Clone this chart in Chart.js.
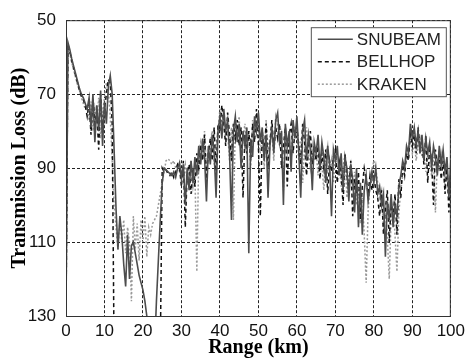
<!DOCTYPE html>
<html>
<head>
<meta charset="utf-8">
<script src="https://cdn.jsdelivr.net/npm/chart.js@4.4.1/dist/chart.umd.min.js"></script>
<style>
  body { margin: 0; background: #fff; }
  canvas { display: block; }
</style>
</head>
<body>
<canvas id="tlChart" width="470" height="362"></canvas>
<script>
/* DATA : transmission loss (dB) every 0.5 km, 0 .. 100 km */
const rangeStep = 0.5;
const xTicks = [0, 10, 20, 30, 40, 50, 60, 70, 80, 90, 100];
const yTicks = [50, 70, 90, 110, 130];
const seriesNames = ["SNUBEAM", "BELLHOP", "KRAKEN"];

const snubeam = [
  130, 56, 58, 60.5, 62.5, 64.5, 66.5, 68.5, 70, 71,        // 0
  72.5, 74, 71, 79, 70, 83, 73, 80, 69, 84,                 // 5
  72, 78, 68, 65, 70, 85, 101, 112, 103, 108,               // 10
  116, 122, 108, 120, 111, 110, 113, 116, 119, 121,         // 15
  123, 126, 130, 134, 140, 140, 140, 126, 115, 104,         // 20
  94, 90, 90.5, 91, 91.5, 92, 91, 92.5, 90, 88.5,           // 25
  93, 89, 100, 90, 96, 88, 94, 87, 92, 84,                  // 30
  89, 82, 87, 99, 84, 89, 81, 86, 98, 80,                   // 35
  76, 82, 74, 80, 77, 86, 104, 80, 76, 83,                  // 40
  78, 90, 80, 84, 79, 113, 82, 87, 76, 80,                  // 45
  75, 83, 79, 88, 81, 98, 84, 79, 86, 77,                   // 50
  75, 83, 80, 100, 78, 84, 80, 91, 77, 82,                  // 55
  76, 86, 98, 80, 77, 88, 81, 85, 96, 83,                   // 60
  86, 81, 90, 83, 87, 94, 84, 89, 103, 85,                  // 65
  88, 84, 92, 86, 96, 87, 90, 99, 89, 93,                   // 70
  102, 90, 106, 94, 108, 96, 92, 99, 95, 91,                // 75
  94, 90, 97, 95, 100, 97, 114, 99, 104, 97,                // 80
  106, 100, 103, 95, 92, 88, 90, 84, 86, 78,                // 85
  82, 79, 84, 80, 86, 81, 88, 82, 86, 83,                   // 90
  90, 84, 87, 92, 84, 89, 85, 91, 87, 98,                   // 95
  88                                                        // 100
];

const bellhop = [
  130, 56.5, 58.5, 61, 63, 65, 67, 69, 70.5, 71.5,          // 0
  73, 76, 72, 81, 71, 78, 75, 85, 70, 80,                   // 5
  74, 70, 66, 67, 78, 140, 140, 140, 140, 140,              // 10
  140, 140, 140, 140, 140, 140, 140, 140, 140, 140,         // 15
  140, 140, 140, 140, 140, 140, 140, 140, 140, 140,         // 20
  90, 91, 90.5, 91.5, 92, 91, 92.5, 91, 89, 90,             // 25
  95, 88, 106, 91, 89, 97, 90, 95, 86, 90,                  // 30
  84, 88, 81, 93, 86, 82, 88, 79, 92, 78,                   // 35
  80, 73, 78, 84, 75, 81, 88, 78, 82, 77,                   // 40
  84, 79, 98, 81, 86, 80, 88, 78, 83, 74,                   // 45
  84, 103, 80, 86, 78, 90, 83, 77, 85, 79,                  // 50
  82, 78, 90, 84, 79, 95, 81, 78, 86, 80,                   // 55
  79, 84, 89, 78, 83, 92, 85, 80, 89, 84,                   // 60
  88, 84, 93, 86, 90, 85, 97, 88, 91, 87,                   // 65
  85, 94, 88, 91, 100, 86, 92, 95, 88, 103,                 // 70
  93, 97, 91, 104, 95, 90, 93, 97, 92, 96,                  // 75
  92, 96, 98, 103, 96, 108, 101, 96, 110, 99,               // 80
  104, 97, 108, 93, 98, 89, 92, 86, 88, 80,                 // 85
  84, 81, 86, 79, 85, 83, 89, 81, 94, 84,                   // 90
  88, 100, 85, 90, 86, 93, 88, 97, 89, 102,                 // 95
  90                                                        // 100
];

const kraken = [
  130, 57, 59, 61.5, 63.5, 65.5, 67.5, 69, 71, 72.5,        // 0
  74, 73, 77, 72, 80, 74, 78, 71, 82, 75,                   // 5
  71, 67, 69, 76, 88, 100, 106, 112, 104, 110,              // 10
  104, 113, 106, 110, 126, 103, 112, 105, 115, 104,         // 15
  110, 103, 114, 106, 108, 105, 104, 103, 100, 97,          // 20
  94, 91, 88, 87.5, 88, 89, 88, 90, 89, 91,                 // 25
  90, 92, 89, 94, 90, 88, 95, 91, 118, 86,                  // 30
  83, 87, 80, 90, 85, 83, 80, 89, 84, 80,                   // 35
  74, 79, 76, 82, 80, 88, 79, 104, 78, 80,                  // 40
  76, 88, 82, 78, 86, 80, 90, 77, 81, 78,                   // 45
  79, 86, 81, 90, 77, 85, 82, 80, 88, 76,                   // 50
  78, 84, 81, 96, 79, 86, 82, 88, 80, 79,                   // 55
  80, 88, 82, 94, 84, 79, 86, 90, 84, 88,                   // 60
  85, 92, 86, 89, 96, 87, 84, 92, 88, 94,                   // 65
  86, 90, 88, 95, 90, 86, 98, 92, 89, 96,                   // 70
  91, 100, 95, 105, 98, 108, 121, 102, 94, 91,              // 75
  88, 90, 94, 98, 96, 106, 100, 109, 120, 103,              // 80
  100, 108, 118, 102, 96, 92, 90, 87, 85, 82,               // 85
  86, 83, 88, 84, 82, 87, 85, 91, 86, 89,                   // 90
  92, 87, 102, 88, 91, 86, 89, 95, 90, 97,                  // 95
  92                                                        // 100
];

/* helpers */
function toPoints(values) {
  return values.map((v, i) => ({ x: i * rangeStep, y: v }));
}

const TICK_FONT = { family: "'Liberation Sans', Arial, sans-serif", size: 17 };
const TITLE_FONT = { family: "'Liberation Serif', 'Times New Roman', serif", size: 20, weight: "bold" };

/* box + legend drawn on top, MATLAB style */
const boxLegend = {
  id: "boxLegend",
  afterDraw(chart) {
    const { ctx, chartArea: a } = chart;
    ctx.save();
    ctx.setLineDash([]);
    ctx.strokeStyle = "#333";
    ctx.lineWidth = 1;
    ctx.strokeRect(a.left + 0.5, a.top + 0.5, a.right - a.left - 1, a.bottom - a.top);

    // legend box
    const lx = a.right - 140, ly = a.top + 7, lw = 135, lh = 69;
    ctx.fillStyle = "#fff";
    ctx.fillRect(lx, ly, lw, lh);
    ctx.strokeStyle = "#555";
    ctx.strokeRect(lx + 0.5, ly + 0.5, lw, lh);

    ctx.font = "17px 'Liberation Sans', Arial, sans-serif";
    ctx.textBaseline = "middle";
    chart.data.datasets.forEach((ds, i) => {
      const y = ly + 12 + i * 22.5;
      ctx.strokeStyle = ds.borderColor;
      ctx.lineWidth = ds.borderWidth;
      ctx.setLineDash(ds.borderDash || []);
      ctx.beginPath();
      ctx.moveTo(lx + 7, y);
      ctx.lineTo(lx + 42, y);
      ctx.stroke();
      ctx.setLineDash([]);
      ctx.fillStyle = "#222";
      ctx.fillText(ds.label, lx + 46, y + 1);
    });
    ctx.restore();
  }
};

new Chart(document.getElementById("tlChart"), {
  type: "line",
  data: {
    datasets: [
      { label: seriesNames[0], data: toPoints(snubeam), borderColor: "#4d4d4d", borderWidth: 1.6, borderDash: [] },
      { label: seriesNames[1], data: toPoints(bellhop), borderColor: "#111", borderWidth: 1.5, borderDash: [4, 3] },
      { label: seriesNames[2], data: toPoints(kraken), borderColor: "#9a9a9a", borderWidth: 1.5, borderDash: [2, 2] }
    ]
  },
  options: {
    responsive: false,
    animation: false,
    devicePixelRatio: 1,
    parsing: true,
    elements: { point: { radius: 0 }, line: { tension: 0 } },
    layout: { padding: { top: 16, right: 18, left: 0, bottom: 0 } },
    plugins: { legend: { display: false }, tooltip: { enabled: false } },
    scales: {
      x: {
        type: "linear",
        min: 0, max: 100,
        afterBuildTicks: s => { s.ticks = xTicks.map(v => ({ value: v })); },
        afterFit: s => { s.height = 46; },
        grid: { color: "#222", lineWidth: 1, drawTicks: false },
        border: { color: "#333", dash: [3, 2] },
        ticks: { color: "#111", font: TICK_FONT, padding: 5, maxRotation: 0 },
        title: { display: true, text: "Range (km)", color: "#000", font: TITLE_FONT, padding: { top: 0, bottom: 2 } }
      },
      y: {
        type: "linear",
        reverse: true,
        min: 50, max: 130,
        afterBuildTicks: s => { s.ticks = yTicks.map(v => ({ value: v })); },
        afterFit: s => { s.width = 66; },
        grid: { color: "#222", lineWidth: 1, drawTicks: false },
        border: { color: "#333", dash: [3, 2] },
        ticks: { color: "#111", font: TICK_FONT, padding: 10 },
        title: { display: true, text: "Transmission Loss (dB)", color: "#000", font: TITLE_FONT, padding: { top: 8, bottom: 0 } }
      }
    }
  },
  plugins: [boxLegend]
});
</script>
</body>
</html>
